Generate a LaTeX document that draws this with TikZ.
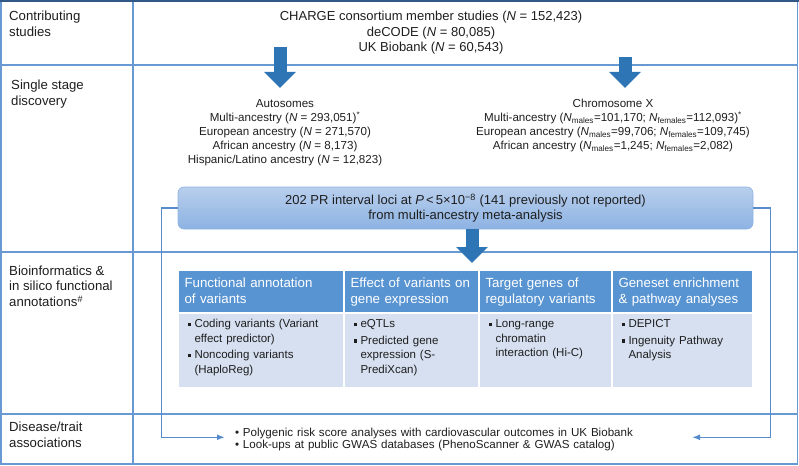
\documentclass[tikz,border=0pt]{standalone}
\usepackage{fontspec}
\setmainfont{Liberation Sans}
\usetikzlibrary{matrix,arrows.meta,positioning}
\definecolor{frameblue}{RGB}{104,153,210}
\definecolor{topblue}{RGB}{50,88,135}
\definecolor{arrblue}{RGB}{46,117,182}
\definecolor{connblue}{RGB}{86,139,204}
\definecolor{hdblue}{RGB}{88,148,210}
\definecolor{bdblue}{RGB}{214,224,240}
\definecolor{lociA}{RGB}{184,207,237}
\definecolor{lociB}{RGB}{141,178,226}
\definecolor{ink}{RGB}{30,30,30}
\newcommand{\Nit}{\textit{N}}
\newcommand{\Nmal}{\textit{N}\textsubscript{males}}
\newcommand{\Nfem}{\textit{N}\textsubscript{females}}
\newcommand{\tbul}{\hspace*{3pt}\rule[1.5pt]{3.5pt}{3.5pt}\hspace*{3.5pt}}
\newcommand{\tind}{\hspace*{10pt}}
\newcommand{\ampch}{\symbol{38}}
\begin{document}
\begin{tikzpicture}[x=1pt,y=-1pt,
    every node/.style={text=ink},
    lbl/.style={anchor=base west,align=left,inner sep=0pt,font=\fontsize{13.2}{15.8}\selectfont},
    sample/.style={anchor=base,align=center,inner sep=0pt,font=\fontsize{11.6}{14}\selectfont},
    bigarr/.style={arrblue,line width=13pt,-{Triangle[width=31pt,length=16pt]}},
    conn/.style={connblue,line width=1.5pt,-{Latex[length=8pt,width=6pt]}}]
  \useasboundingbox (0,0) rectangle (799,465);
  \draw[frameblue,line width=1.2pt] (1,1) rectangle (797.6,464)
    (1,65) -- (797.6,65) (1,252) -- (797.6,252) (1,414) -- (797.6,414) (133,1) -- (133,464);
  \draw[topblue,line width=2pt] (0,1) -- (799,1);
  \node[lbl] (l1) at (9,36.5) {Contributing\\studies};
  \node[lbl] (l2) at (11,105.3) {Single stage\\discovery};
  \node[lbl] (l3) at (9,306.6) {Bioinformatics \&\\in silico functional\\annotations\textsuperscript{\textit{\#}}};
  \node[lbl] (l4) at (9,447.3) {Disease/trait\\associations};
  \node[anchor=base,align=center,inner sep=0pt,font=\fontsize{13}{15.5}\selectfont] (stud) at (431,51.7)
    {CHARGE consortium member studies (\Nit\ = 152,423)\\deCODE (\Nit\ = 80,085)\\UK Biobank (\Nit\ = 60,543)};
  \node[sample] (aut) at (285,163.5) {Autosomes\\Multi-ancestry (\Nit\ = 293,051)\textsuperscript{*}\\European ancestry (\Nit\ = 271,570)\\
    African ancestry (\Nit\ = 8,173)\\Hispanic/Latino ancestry (\Nit\ = 12,823)};
  \node[sample] (chx) at (613,149.5) {Chromosome X\\Multi-ancestry (\Nmal=101,170; \Nfem=112,093)\textsuperscript{*}\\
    European ancestry (\Nmal=99,706; \Nfem=109,745)\\African ancestry (\Nmal=1,245; \Nfem=2,082)};
  \node[rounded corners=6pt,top color=lociA,bottom color=lociB,draw=lociB,line width=0.6pt,minimum width=575pt,
    minimum height=42pt,inner sep=0pt,align=center,font=\fontsize{13}{15}\selectfont] (loci) at (465.5,208)
    {202 PR interval loci at \textit{P}\,<\,5×10\textsuperscript{−8} (141 previously not reported)\\from multi-ancestry meta-analysis};
  \matrix (tab) [matrix of nodes, ampersand replacement=\&, anchor=north west, inner sep=0pt, outer sep=0pt,
    column sep=0pt, row sep=0pt,
    nodes={draw=white, line width=1pt, align=left, anchor=base, inner xsep=6pt, inner ysep=0pt},
    row 1/.style={nodes={fill=hdblue, text=white, font=\fontsize{13.3}{16}\selectfont, text height=16.5pt, text depth=25.5pt}},
    row 2/.style={nodes={fill=bdblue, font=\fontsize{11.5}{14.5}\selectfont, text height=14pt, text depth=60pt}},
    column 1/.style={nodes={text width=153pt}},
    column 2/.style={nodes={text width=122pt}},
    column 3/.style={nodes={text width=120pt}},
    column 4/.style={nodes={text width=128pt}}] at (178,270) {
    {Functional annotation\\of variants} \& {Effect of variants on\\gene expression} \&
      {Target genes of\\regulatory variants} \& {Geneset enrichment\\\ampch{} pathway analyses} \\
    {\tbul Coding variants (Variant\\\tind effect predictor)\\[2pt]\tbul Noncoding variants\\\tind (HaploReg)} \&
      {\tbul eQTLs\\[2pt]\tbul Predicted gene\\\tind expression (S-\\\tind PrediXcan)} \&
      {\tbul Long-range\\\tind chromatin\\\tind interaction (Hi-C)} \&
      {\tbul DEPICT\\[2pt]\tbul Ingenuity Pathway\\\tind Analysis} \\
  };
  \node[text width=447pt,align=left,inner xsep=10pt,inner ysep=0pt,outer sep=0pt,text height=12.5pt,
    font=\fontsize{11.6}{12}\selectfont] (dis) at (458.5,437.3)
    {\textbullet\ Polygenic risk score analyses with cardiovascular outcomes in UK Biobank\\
     \textbullet\ Look-ups at public GWAS databases (PhenoScanner \& GWAS catalog)};
  \coordinate (autin) at (280,47);
  \coordinate (autout) at (280,88);
  \coordinate (chxin) at (625,57);
  \coordinate (chxout) at (625,88);
  \draw[bigarr] (autin) -- (autout);
  \draw[bigarr] (chxin) -- (chxout);
  \draw[bigarr] ([xshift=6.5pt]loci.south) -- ([xshift=6.5pt,yshift=7pt]tab.north);
  \draw[conn] (loci.west) -- ++(-16,0) |- (dis.west);
  \draw[conn] (loci.east) -- ++(17,0) |- (dis.east);
\end{tikzpicture}
\end{document}
